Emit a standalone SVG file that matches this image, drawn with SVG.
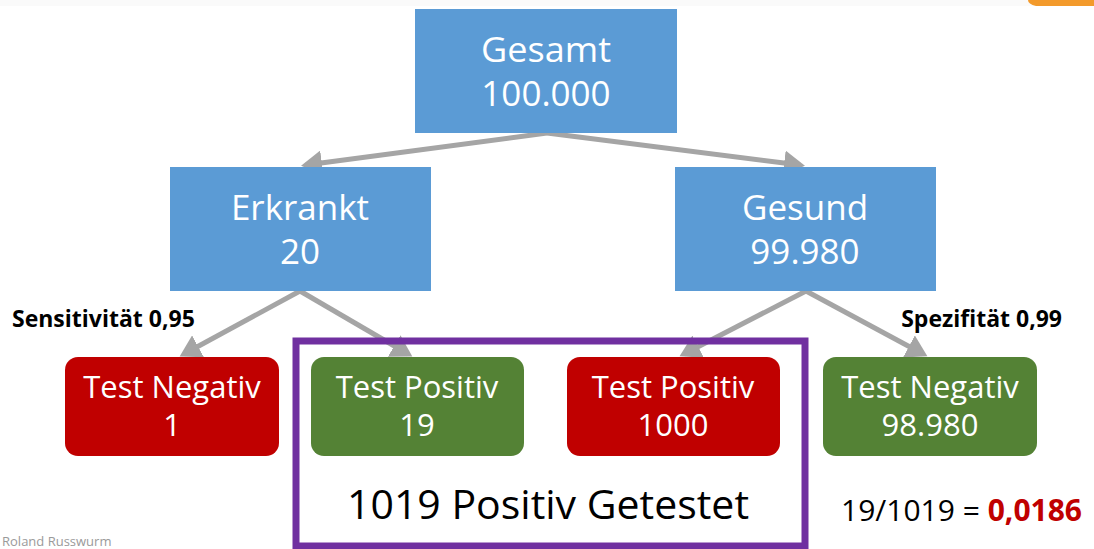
<svg xmlns="http://www.w3.org/2000/svg" width="1094" height="549" viewBox="0 0 1094 549">
<style>
.blue{fill:#5B9BD5}
.red{fill:#C00000}
.green{fill:#548235}
.t{font-family:"Open Sans","Liberation Sans",sans-serif;fill:#fff;text-anchor:middle}
.big{font-size:35px}
.mid{font-size:31px}
.lbl{font-family:"Open Sans","Liberation Sans",sans-serif;font-weight:bold;font-size:23px;fill:#000}
.conn{stroke:#A5A5A5;stroke-width:5;fill:none;marker-end:url(#ah)}
</style>
<defs>
<marker id="ah" markerWidth="5" markerHeight="5" refX="3.2" refY="2.5" orient="auto" markerUnits="strokeWidth">
<path d="M0,0 L4.2,2.5 L0,5 Z" fill="#A5A5A5"/>
</marker>
</defs>
<rect x="0" y="0" width="1094" height="549" fill="#fff"/>
<rect x="0" y="0" width="1094" height="6" fill="#FAFAFA"/>
<path d="M1028,0 L1094,0 L1094,6 L1036,6 Q1028,4 1028,0 Z" fill="#F39A2B"/>
<g id="connectors">
<line class="conn" x1="547" y1="133" x2="306" y2="165"/>
<line class="conn" x1="547" y1="133" x2="800" y2="165"/>
<line class="conn" x1="300" y1="291" x2="184" y2="354"/>
<line class="conn" x1="300" y1="291" x2="408" y2="354"/>
<line class="conn" x1="806" y1="291" x2="684" y2="354"/>
<line class="conn" x1="806" y1="291" x2="923" y2="354"/>
</g>
<g id="group">
<rect x="296" y="341" width="509" height="205" fill="none" stroke="#7030A0" stroke-width="7"/>
<text x="548" y="519" font-family="'Open Sans','Liberation Sans',sans-serif" font-size="41" fill="#000" text-anchor="middle">1019 Positiv Getestet</text>
</g>
<g id="gesamt">
<rect class="blue" x="415" y="9" width="262" height="124"/>
<text class="t big" x="546" y="62" textLength="130" lengthAdjust="spacingAndGlyphs">Gesamt</text>
<text class="t big" x="546" y="106">100.000</text>
</g>
<g id="erkrankt">
<rect class="blue" x="170" y="167" width="261" height="124"/>
<text class="t big" x="300" y="220">Erkrankt</text>
<text class="t big" x="300" y="264">20</text>
</g>
<g id="gesund">
<rect class="blue" x="675" y="167" width="261" height="124"/>
<text class="t big" x="805" y="220">Gesund</text>
<text class="t big" x="805" y="264">99.980</text>
</g>
<g id="neg1">
<rect class="red" x="65" y="357" width="214" height="99" rx="13"/>
<text class="t mid" x="172" y="398">Test Negativ</text>
<text class="t mid" x="172" y="436">1</text>
</g>
<g id="pos19">
<rect class="green" x="311" y="357" width="213" height="99" rx="13"/>
<text class="t mid" x="417" y="398">Test Positiv</text>
<text class="t mid" x="417" y="436">19</text>
</g>
<g id="pos1000">
<rect class="red" x="567" y="357" width="213" height="99" rx="13"/>
<text class="t mid" x="673" y="398">Test Positiv</text>
<text class="t mid" x="673" y="436">1000</text>
</g>
<g id="neg98980">
<rect class="green" x="823" y="357" width="214" height="99" rx="13"/>
<text class="t mid" x="930" y="398">Test Negativ</text>
<text class="t mid" x="930" y="436">98.980</text>
</g>
<text class="lbl" x="12" y="327">Sensitivität 0,95</text>
<text class="lbl" x="1062" y="327" text-anchor="end">Spezifität 0,99</text>
<text x="1082" y="521" font-family="'Open Sans','Liberation Sans',sans-serif" font-size="30" fill="#000" text-anchor="end">19/1019 = <tspan font-weight="bold" fill="#C00000">0,0186</tspan></text>
<text x="2" y="546" font-family="'Open Sans','Liberation Sans',sans-serif" font-size="13" fill="#9A9A9A">Roland Russwurm</text>
</svg>
